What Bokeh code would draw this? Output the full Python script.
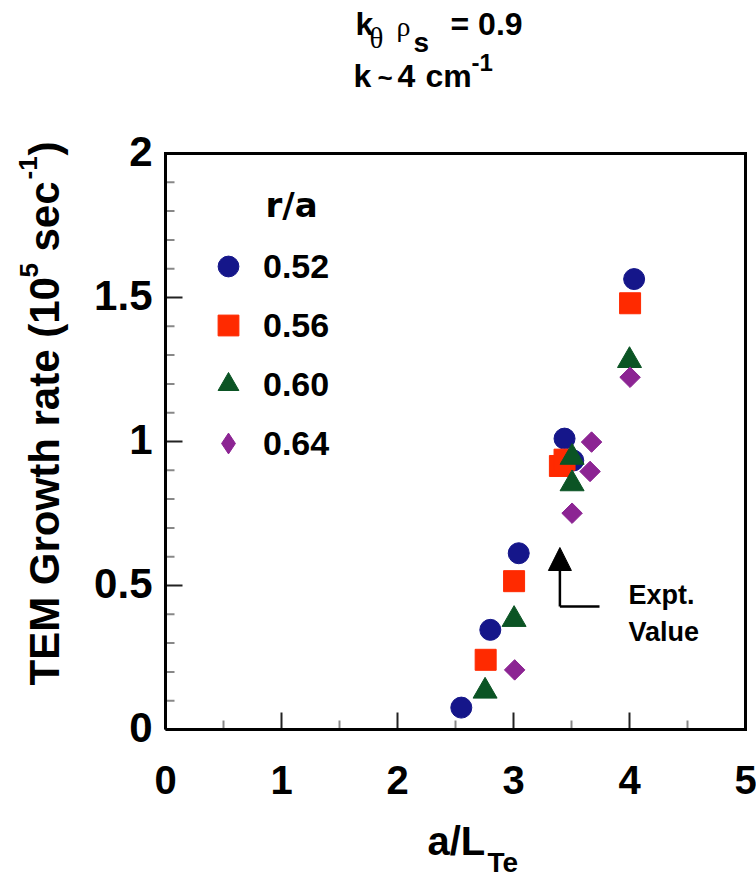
import math
from bokeh.plotting import figure
from bokeh.models import Legend, LegendItem, Arrow, NormalHead, Range1d
from bokeh.core.properties import value
from bokeh.embed import file_html
from bokeh.resources import INLINE

# ---------------- data ----------------
series_labels = ["0.52", "0.56", "0.60", "0.64"]
x_052 = [2.55, 2.80, 3.045, 3.44, 3.515, 4.04]
y_052 = [0.076, 0.346, 0.612, 1.010, 0.934, 1.564]
x_056 = [2.76, 3.005, 3.40, 3.44, 4.005]
y_056 = [0.242, 0.515, 0.915, 0.937, 1.480]
x_060 = [2.755, 3.005, 3.505, 3.505, 4.00]
y_060 = [0.133, 0.382, 0.945, 0.853, 1.281]
x_064 = [3.01, 3.505, 3.66, 3.673, 4.005]
y_064 = [0.207, 0.751, 0.896, 0.998, 1.223]
expt_value = 3.40

x_ticks = [0, 1, 2, 3, 4, 5]
x_tick_labels = ["0", "1", "2", "3", "4", "5"]
x_minor = [0.5, 1.5, 2.5, 3.5, 4.5]
y_ticks = [0, 0.5, 1, 1.5, 2]
y_tick_labels = ["0", "0.5", "1", "1.5", "2"]
y_minor = [i / 10 for i in range(1, 20) if i % 5]

# ---------------- style ----------------
SANS = "Liberation Sans"
SERIF = "Liberation Serif"
BLUE = "#15168a"
RED = "#ff2a00"
GREEN = "#0b5424"
PURPLE = "#8c2493"

W, H = 756, 882
FL, FR, FT, FB = 165, 745, 153, 729   # plotting box edges in px
SX = (FR - FL) / (x_ticks[-1] - x_ticks[0])
SY = (FB - FT) / (y_ticks[-1] - y_ticks[0])
BASE_SHIFT = 0.4   # text anchor sits this many em above the glyph baseline

def dx(px):
    return (px - FL) / SX

def dy(py):
    return (FB - py) / SY

p = figure(width=W, height=H,
           x_range=Range1d(dx(0), dx(W)), y_range=Range1d(dy(H), dy(0)),
           output_backend="svg", toolbar_location=None,
           x_axis_location=None, y_axis_location=None,
           min_border=0, min_border_left=0, min_border_right=0,
           min_border_top=0, min_border_bottom=0)
p.grid.visible = False
p.outline_line_color = None
p.background_fill_color = "white"
p.border_fill_color = "white"

x_lo, x_hi = x_ticks[0], x_ticks[-1]
y_lo, y_hi = y_ticks[0], y_ticks[-1]

# ---------------- axes (box, ticks, tick labels) ----------------
MAJ, MIN = 17, 9
p.segment(x0=x_ticks, y0=[y_lo] * len(x_ticks), x1=x_ticks,
          y1=[y_lo + MAJ / SY] * len(x_ticks), line_color="#222222", line_width=2)
p.segment(x0=x_minor, y0=[y_lo] * len(x_minor), x1=x_minor,
          y1=[y_lo + MIN / SY] * len(x_minor), line_color="#888888", line_width=2)
p.segment(x0=[x_lo] * len(y_ticks), y0=y_ticks, x1=[x_lo + MAJ / SX] * len(y_ticks),
          y1=y_ticks, line_color="#222222", line_width=2)
p.segment(x0=[x_lo] * len(y_minor), y0=y_minor, x1=[x_lo + MIN / SX] * len(y_minor),
          y1=y_minor, line_color="#888888", line_width=2)
p.line(x=[x_lo, x_hi, x_hi, x_lo, x_lo], y=[y_lo, y_lo, y_hi, y_hi, y_lo],
       line_color="black", line_width=3, line_join="miter")

XT_SIZE, YT_SIZE = 40, 42
p.text(x=x_ticks, y=[y_lo - (795 - BASE_SHIFT * XT_SIZE - FB) / SY] * len(x_ticks),
       text=x_tick_labels, text_font=value(SANS), text_font_style="bold",
       text_font_size=f"{XT_SIZE}px", text_align="center",
       text_baseline="alphabetic", text_color="black")
p.text(x=[x_lo - (FL - 152) / SX] * len(y_ticks),
       y=[t - (15 - BASE_SHIFT * YT_SIZE) / SY for t in y_ticks],
       text=y_tick_labels, text_font=value(SANS), text_font_style="bold",
       text_font_size=f"{YT_SIZE}px", text_align="right",
       text_baseline="alphabetic", text_color="black")

# ---------------- data marks ----------------
r1 = p.scatter(x_052, y_052, marker="circle", size=21, fill_color=BLUE, line_color=BLUE)
r2 = p.scatter(x_056, y_056, marker="square", size=21, fill_color=RED, line_color=RED)
r3 = p.scatter(x_060, y_060, marker="triangle", size=24, fill_color=GREEN, line_color=GREEN)
r4 = p.scatter(x_064, y_064, marker="square", angle=math.pi / 4, size=14.5,
               fill_color=PURPLE, line_color=PURPLE)
# legend key for the 0.64 series (legend glyphs are never rotated)
r4_key = p.scatter(x_064, y_064, marker="diamond", size=22, fill_color=PURPLE,
                   line_color=PURPLE, visible=False)

legend = Legend(items=[LegendItem(label=lab, renderers=[r])
                       for lab, r in zip(series_labels, [r1, r2, r3, r4_key])],
                location=(202, H - 469), glyph_width=52, glyph_height=52, spacing=7,
                padding=0, margin=0, border_line_color=None,
                background_fill_alpha=0, inactive_fill_alpha=0, label_standoff=9,
                label_text_font=SANS, label_text_font_style="bold",
                label_text_font_size="34px", label_text_color="black")
p.add_layout(legend)

# ---------------- experimental value annotation ----------------
arrow_base = dy(606)
arrow_tip = dy(547)
p.add_layout(Arrow(end=NormalHead(size=23, fill_color="black", line_color="black"),
                   x_start=expt_value, y_start=arrow_base,
                   x_end=expt_value, y_end=arrow_tip, line_width=2.5))
p.segment(x0=[expt_value], y0=[arrow_base], x1=[dx(599)], y1=[arrow_base],
          line_color="black", line_width=2.5)

# ---------------- texts ----------------
def lab(text, px, py, size, font=SANS, style="bold", rotated=False):
    # (px, py): start of the text on its baseline, in picture pixels
    if rotated:
        ax, ay, angle = px - BASE_SHIFT * size, py, math.pi / 2
    else:
        ax, ay, angle = px, py - BASE_SHIFT * size, 0.0
    p.text(x=[dx(ax)], y=[dy(ay)], text=[text], text_font=value(font),
           text_font_style=style, text_font_size=f"{size}px",
           text_color="black", angle=angle, text_align="left",
           text_baseline="alphabetic")

lab("Expt.", 628, 605, 27)
lab("Value", 628, 642, 27)
lab("r/a", 265, 218, 34, font="DejaVu Sans")

# title
lab("k", 355, 36, 32)
lab("\u03b8", 369, 49, 29, font=SERIF, style="normal")
lab("\u03c1", 396, 37, 28, font=SERIF, style="normal")
lab("s", 413, 53, 28)
lab("= 0.9", 450, 36, 32)
lab("k", 353, 88, 32)
lab("~", 377, 88, 26)
lab("4", 397, 88, 32)
lab("cm", 425, 88, 32)
lab("-1", 471, 72, 24)

# x-axis label
lab("a/L", 427, 856, 40)
lab("Te", 487, 873, 28)

# y-axis label (rotated, reads upward)
lab("TEM Growth rate (10", 61, 685, 42, rotated=True)
lab("5", 39, 277, 26, rotated=True)
lab("sec", 61, 251, 42, rotated=True)
lab("-1", 38, 179, 26, rotated=True)
lab(")", 61, 155, 42, rotated=True)

open("out.html", "w").write(file_html(p, INLINE))
